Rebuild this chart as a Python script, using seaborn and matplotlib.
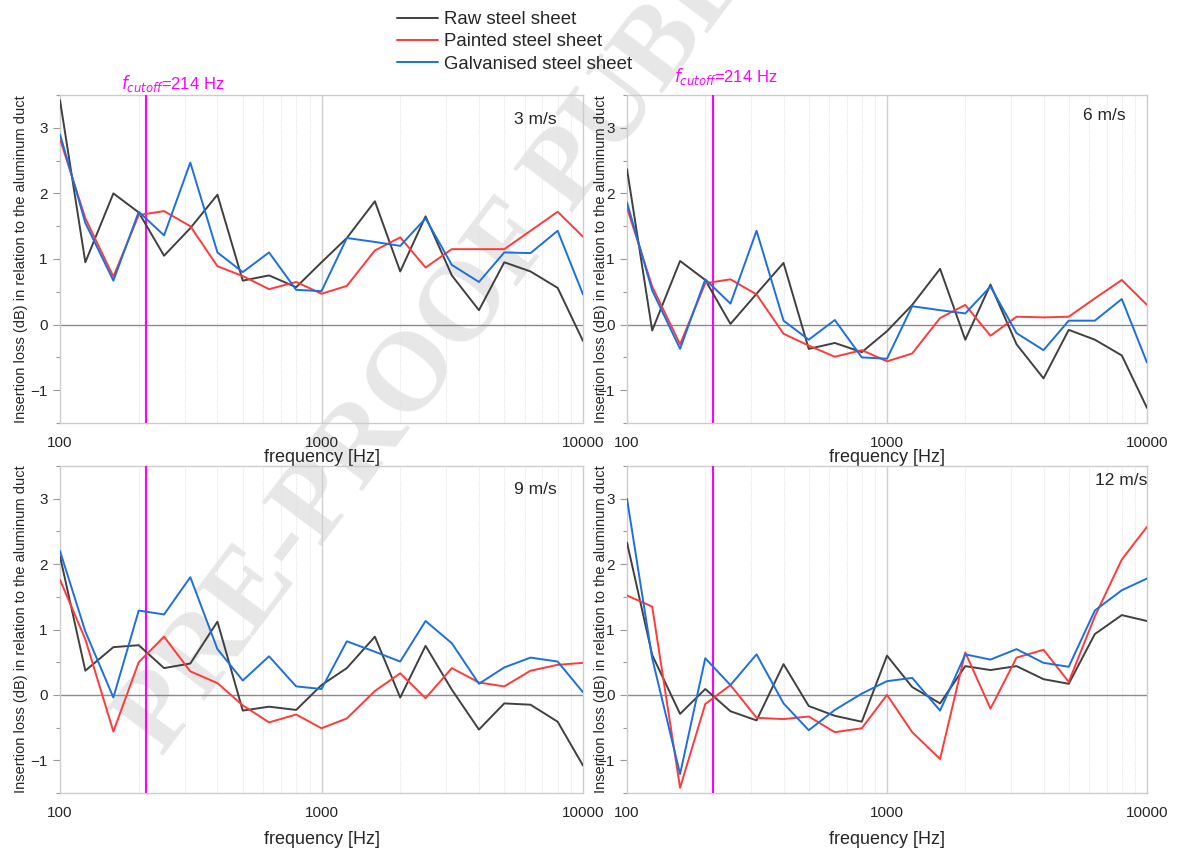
import numpy as np
import pandas as pd
import matplotlib
matplotlib.use('Agg')
import matplotlib.pyplot as plt
import matplotlib.ticker as mticker
import seaborn as sns

# third-octave band centre frequencies
freqs = [100, 125, 160, 200, 250, 315, 400, 500, 630, 800, 1000,
         1250, 1600, 2000, 2500, 3150, 4000, 5000, 6300, 8000, 10000]

materials = ['Raw steel sheet', 'Painted steel sheet', 'Galvanised steel sheet']
speeds = ['3 m/s', '6 m/s', '9 m/s', '12 m/s']

# 3 m/s
raw_3 = [3.42, 0.95, 2.00, 1.71, 1.05, 1.47, 1.98, 0.67, 0.75, 0.57, 0.95,
         1.32, 1.88, 0.81, 1.65, 0.75, 0.22, 0.95, 0.81, 0.56, -0.25]
painted_3 = [2.83, 1.62, 0.73, 1.67, 1.73, 1.50, 0.89, 0.74, 0.54, 0.65, 0.47,
             0.59, 1.13, 1.33, 0.87, 1.15, 1.15, 1.15, 1.43, 1.72, 1.34]
galv_3 = [2.90, 1.55, 0.67, 1.72, 1.36, 2.47, 1.10, 0.80, 1.10, 0.53, 0.51,
          1.32, 1.26, 1.20, 1.62, 0.91, 0.65, 1.10, 1.09, 1.43, 0.46]

# 6 m/s
raw_6 = [2.37, -0.09, 0.97, 0.68, 0.01, 0.47, 0.94, -0.37, -0.28, -0.42, -0.10,
         0.30, 0.85, -0.23, 0.61, -0.30, -0.82, -0.08, -0.23, -0.47, -1.27]
painted_6 = [1.78, 0.58, -0.30, 0.63, 0.69, 0.46, -0.14, -0.32, -0.49, -0.39, -0.56,
             -0.44, 0.10, 0.30, -0.17, 0.12, 0.11, 0.12, 0.40, 0.68, 0.30]
galv_6 = [1.86, 0.52, -0.37, 0.69, 0.32, 1.43, 0.06, -0.23, 0.07, -0.50, -0.52,
          0.28, 0.22, 0.17, 0.58, -0.13, -0.39, 0.06, 0.06, 0.39, -0.58]

# 9 m/s
raw_9 = [2.12, 0.37, 0.73, 0.76, 0.41, 0.48, 1.12, -0.24, -0.18, -0.23, 0.15,
         0.41, 0.89, -0.04, 0.75, 0.08, -0.53, -0.13, -0.15, -0.41, -1.08]
painted_9 = [1.76, 0.85, -0.56, 0.50, 0.89, 0.36, 0.18, -0.16, -0.42, -0.30, -0.51,
             -0.36, 0.06, 0.33, -0.05, 0.41, 0.19, 0.13, 0.37, 0.46, 0.49]
galv_9 = [2.20, 0.97, -0.04, 1.29, 1.23, 1.80, 0.70, 0.22, 0.59, 0.13, 0.09,
          0.82, 0.66, 0.51, 1.13, 0.79, 0.17, 0.42, 0.57, 0.51, 0.04]

# 12 m/s
raw_12 = [2.33, 0.61, -0.29, 0.09, -0.25, -0.39, 0.47, -0.17, -0.32, -0.41, 0.60,
          0.12, -0.13, 0.44, 0.38, 0.44, 0.24, 0.17, 0.93, 1.22, 1.13]
painted_12 = [1.52, 1.35, -1.42, -0.14, 0.15, -0.35, -0.37, -0.33, -0.57, -0.51, 0.00,
              -0.57, -0.98, 0.65, -0.21, 0.57, 0.69, 0.20, 1.20, 2.07, 2.57]
galv_12 = [3.00, 0.56, -1.21, 0.56, 0.15, 0.62, -0.13, -0.54, -0.23, 0.02, 0.21,
           0.26, -0.24, 0.62, 0.54, 0.70, 0.49, 0.43, 1.29, 1.60, 1.78]

f_cutoff = 214

series = {
    '3 m/s': [raw_3, painted_3, galv_3],
    '6 m/s': [raw_6, painted_6, galv_6],
    '9 m/s': [raw_9, painted_9, galv_9],
    '12 m/s': [raw_12, painted_12, galv_12],
}

rows = []
for sp in speeds:
    for mat, vals in zip(materials, series[sp]):
        for f, v in zip(freqs, vals):
            rows.append({'speed': sp, 'material': mat, 'freq': f, 'IL': v})
df = pd.DataFrame(rows)

palette = {'Raw steel sheet': '#404040',
           'Painted steel sheet': '#ff3a3a',
           'Galvanised steel sheet': '#1c6fe0'}

sns.set_style('white')
plt.rcParams['font.family'] = ['Liberation Sans', 'DejaVu Sans']

W, H = 1177, 850
fig = plt.figure(figsize=(W / 100, H / 100), dpi=100)

# watermark, behind the (transparent) axes
fig.text(162 / W, 1 - 757 / H, 'PRE-PROOF PUBLICATION', rotation=53,
         rotation_mode='anchor', ha='left', va='baseline', fontsize=81,
         family='Liberation Serif', weight='bold', color='#e7e7e7', zorder=-1)

# panel boxes in pixels: left, top, right, bottom
boxes = [(60, 95, 583, 423), (627, 95, 1147, 423),
         (60, 466, 583, 793), (627, 466, 1147, 793)]
label_pos = [(0.908, 0.924), (0.917, 0.936), (0.908, 0.927), (0.950, 0.957)]
ylab_x = [-0.062, -0.036, -0.062, -0.036]
xlab_y = [-0.079, -0.079, -0.115, -0.115]
cut_off = [(19, 1), (9, 6)]

axes = []
for i, sp in enumerate(speeds):
    l, t, r, b = boxes[i]
    ax = fig.add_axes([l / W, 1 - b / H, (r - l) / W, (b - t) / H])
    ax.set_facecolor('none')
    axes.append(ax)
    ax.set_xscale('log')
    # grid and reference lines
    for fm in [200, 300, 400, 500, 600, 700, 800, 900,
               2000, 3000, 4000, 5000, 6000, 7000, 8000, 9000]:
        ax.axvline(fm, color='#e4e4e4', lw=0.8, ls=(0, (1, 1)), zorder=0)
    ax.axvline(1000, color='#cfcfcf', lw=1.0, zorder=0)
    ax.axhline(0, color='#8a8a8a', lw=1.0, zorder=1)
    ax.axvline(f_cutoff, color='#ff00ff', lw=1.5, zorder=3)

    sns.lineplot(data=df[df['speed'] == sp], x='freq', y='IL', hue='material',
                 hue_order=materials, palette=palette, lw=1.4, ax=ax,
                 legend=False, zorder=4)

    ax.set_xlim(100, 10000)
    ax.set_ylim(-1.5, 3.5)
    ax.xaxis.set_major_locator(mticker.FixedLocator([100, 1000, 10000]))
    ax.xaxis.set_major_formatter(mticker.FixedFormatter(['100', '1000', '10000']))
    ax.xaxis.set_minor_locator(mticker.NullLocator())
    ax.yaxis.set_major_locator(mticker.MultipleLocator(1))
    ax.yaxis.set_minor_locator(mticker.MultipleLocator(0.5))
    ax.tick_params(axis='y', which='major', left=True, length=5, width=0.8,
                   color='#999999', labelsize=11, pad=4)
    ax.tick_params(axis='y', which='minor', left=True, length=3, width=0.8,
                   color='#999999')
    ax.tick_params(axis='x', which='major', bottom=False, labelsize=11, pad=6)
    for s in ax.spines.values():
        s.set_color('#cccccc')
        s.set_linewidth(1.0)

    ax.set_xlabel('frequency [Hz]', fontsize=13)
    ax.xaxis.set_label_coords(0.5, xlab_y[i])
    ax.set_ylabel('Insertion loss (dB) in relation to the aluminum duct', fontsize=10.5)
    ax.yaxis.set_label_coords(ylab_x[i], 0.5)

    ax.text(label_pos[i][0], label_pos[i][1], sp, transform=ax.transAxes,
            ha='center', va='center', fontsize=12.5)

    if i < 2:
        ax.annotate('$f_{cutoff}$=214 Hz', xy=(f_cutoff, 3.5), xycoords='data',
                    xytext=cut_off[i], textcoords='offset points',
                    ha='center', va='bottom', color='#ff00ff', fontsize=12,
                    annotation_clip=False)

handles = [plt.Line2D([], [], color=palette[m], lw=1.4) for m in materials]
fig.legend(handles, materials, loc='upper left', bbox_to_anchor=(397 / W, 1 - 11 / H),
           frameon=False, fontsize=13.4, handlelength=2.2, handletextpad=0.35,
           labelspacing=0.28, borderaxespad=0, borderpad=0.0)

fig.savefig('out.png', dpi=100)
